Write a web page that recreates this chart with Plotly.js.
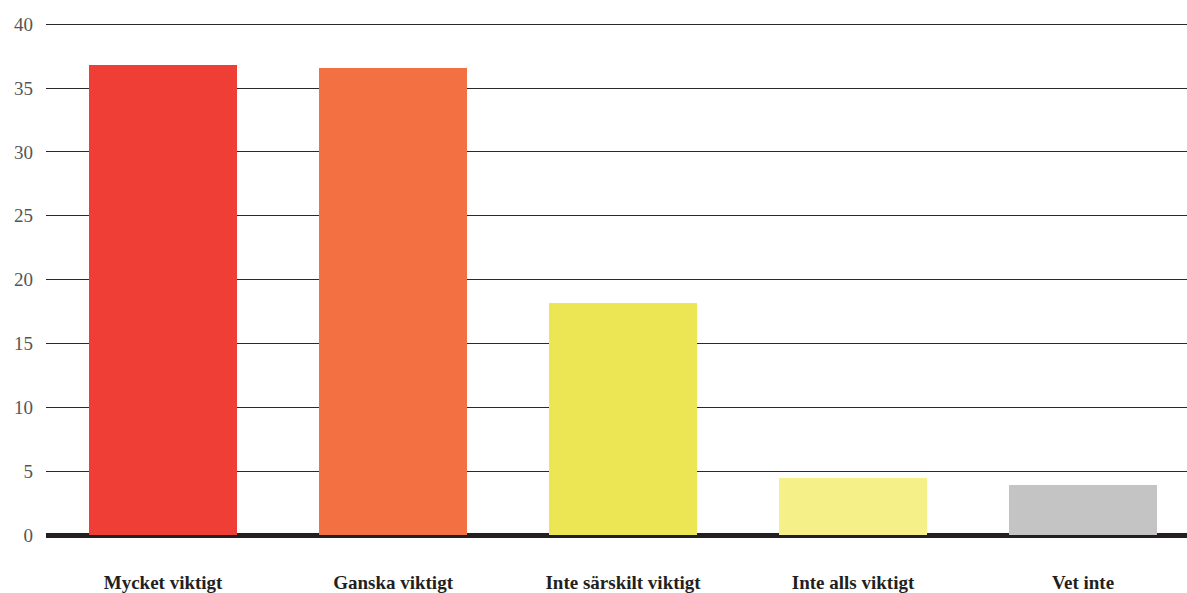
<!DOCTYPE html>
<html><head><meta charset="utf-8">
<script src="https://cdn.plot.ly/plotly-3.0.1.min.js"></script>
<style>html,body{margin:0;padding:0;background:#fff;}#chart{width:1187px;height:593px;}</style>
</head><body><div id="chart"></div>
<script>
const categories = ["Mycket viktigt", "Ganska viktigt", "Inte särskilt viktigt", "Inte alls viktigt", "Vet inte"];
const values = [36.85, 36.6, 18.2, 4.5, 3.88];
const colors = ["#EF3E36", "#F37042", "#ECE655", "#F5F087", "#C4C4C4"];
const yTicks = [0, 5, 10, 15, 20, 25, 30, 35, 40];

const trace = {
  type: "bar",
  x: categories,
  y: values,
  width: 0.643,
  marker: {color: colors, line: {width: 0}},
  hoverinfo: "skip"
};
const layout = {
  width: 1187, height: 593,
  margin: {l: 46, r: 0, t: 23, b: 58},
  paper_bgcolor: "#fff", plot_bgcolor: "#fff",
  showlegend: false,
  bargap: 0,
  xaxis: {
    type: "category",
    range: [-0.509, 4.452],
    showgrid: false, showline: false, zeroline: false,
    ticks: "",
    ticklabelstandoff: 34,
    tickfont: {family: "Liberation Serif, serif", size: 19, color: "#231f20", weight: "bold"}
  },
  yaxis: {
    range: [0, 40.1],
    tickvals: yTicks,
    ticktext: yTicks.map(String),
    showgrid: true, gridcolor: "#2a2a2a", gridwidth: 1,
    zeroline: true, zerolinecolor: "#231f20", zerolinewidth: 5,
    showline: false,
    ticks: "",
    ticklabelstandoff: 12,
    tickfont: {family: "Liberation Serif, serif", size: 19, color: "#555"}
  }
};
Plotly.newPlot("chart", [trace], layout, {staticPlot: true, displayModeBar: false});
</script></body></html>
